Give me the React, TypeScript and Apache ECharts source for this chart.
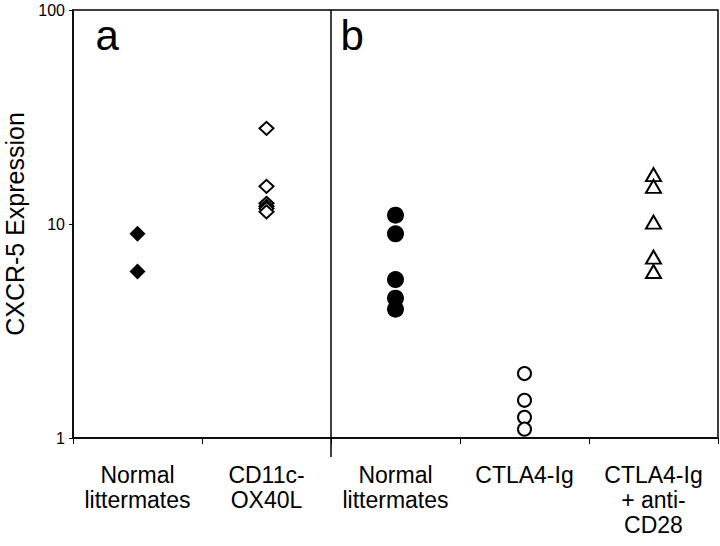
import React, { useEffect, useRef } from "react";
import * as echarts from "echarts";

const categories = ["Normal\nlittermates", "CD11c-\nOX40L", "Normal\nlittermates", "CTLA4-Ig", "CTLA4-Ig\n+ anti-\nCD28"];
const aNormal = [9, 6];
const aOX40L = [28, 15, 12.5, 12.1, 11.8, 11.4];
const bNormal = [11, 9, 5.5, 4.5, 4];
const bCTLA4 = [2, 1.5, 1.25, 1.1];
const bCTLA4CD28 = [17, 15, 10.2, 7, 6];
const yTicks = [1, 10, 100];
const panelLabels = ["a", "b"];

const FONT = "'Liberation Sans', Arial, sans-serif";

export default function App() {
  const ref = useRef<HTMLDivElement>(null);
  useEffect(() => {
    if (!ref.current) return;
    const chart = echarts.init(ref.current, null, { renderer: "svg" });
    const mk = (cat: number, vals: number[]) => vals.map((v) => [cat, v]);
    const open = { color: "#fff", borderColor: "#000", borderWidth: 2, opacity: 1 };
    const filled = { color: "#000", opacity: 1 };
    chart.setOption({
      animation: false,
      backgroundColor: "#fff",
      textStyle: { fontFamily: FONT },
      grid: {
        left: 73, right: 2, top: 10, bottom: 108,
        containLabel: false,
        outerBoundsMode: "none",
        show: true, borderColor: "#000", borderWidth: 1.5, backgroundColor: "transparent",
      },
      xAxis: {
        type: "category",
        data: categories,
        boundaryGap: true,
        axisLine: { lineStyle: { color: "#000", width: 1.5 } },
        axisTick: { show: true, length: 6, lineStyle: { color: "#000" }, interval: 0 },
        axisLabel: { interval: 0, color: "#000", fontSize: 23, lineHeight: 25, margin: 24, fontFamily: FONT, hideOverlap: false },
        splitLine: { show: false },
      },
      yAxis: {
        type: "log",
        logBase: 10,
        min: yTicks[0],
        max: yTicks[yTicks.length - 1],
        name: "CXCR-5 Expression",
        nameLocation: "middle",
        nameGap: 46,
        nameTextStyle: { color: "#000", fontSize: 25, fontFamily: FONT },
        axisLine: { show: true, lineStyle: { color: "#000", width: 1.5 } },
        axisTick: { show: true, length: 4, lineStyle: { color: "#000" } },
        axisLabel: { color: "#000", fontSize: 16, margin: 8, fontFamily: FONT },
        splitLine: { show: false },
        minorTick: { show: false },
      },
      series: [
        { type: "scatter", data: mk(0, aNormal), symbol: "diamond", symbolSize: 16, itemStyle: filled },
        { type: "scatter", data: mk(1, aOX40L), symbol: "diamond", symbolSize: [14, 13], itemStyle: open },
        { type: "scatter", data: mk(2, bNormal), symbol: "circle", symbolSize: 17, itemStyle: filled },
        { type: "scatter", data: mk(3, bCTLA4), symbol: "circle", symbolSize: 13, itemStyle: open },
        { type: "scatter", data: mk(4, bCTLA4CD28), symbol: "triangle", symbolSize: [15, 13], itemStyle: open },
      ],
    });
    const c1 = chart.convertToPixel({ xAxisIndex: 0 }, 1) as number;
    const c2 = chart.convertToPixel({ xAxisIndex: 0 }, 2) as number;
    const c0 = chart.convertToPixel({ xAxisIndex: 0 }, 0) as number;
    const yTop = chart.convertToPixel({ yAxisIndex: 0 }, yTicks[yTicks.length - 1]) as number;
    const yBot = chart.convertToPixel({ yAxisIndex: 0 }, yTicks[0]) as number;
    const divX = (c1 + c2) / 2;
    chart.setOption({
      graphic: [
        { type: "line", shape: { x1: divX, y1: yTop, x2: divX, y2: yBot + 19 }, style: { stroke: "#000", lineWidth: 1.5 } },
        { type: "text", x: c0 - 42, y: 14, style: { text: panelLabels[0], font: `42px ${FONT}`, fill: "#000" } },
        { type: "text", x: c2 - 55, y: 14, style: { text: panelLabels[1], font: `42px ${FONT}`, fill: "#000" } },
      ],
    });
    return () => chart.dispose();
  }, []);
  return <div ref={ref} style={{ position: "absolute", left: 0, top: 0, width: 720, height: 546 }} />;
}
